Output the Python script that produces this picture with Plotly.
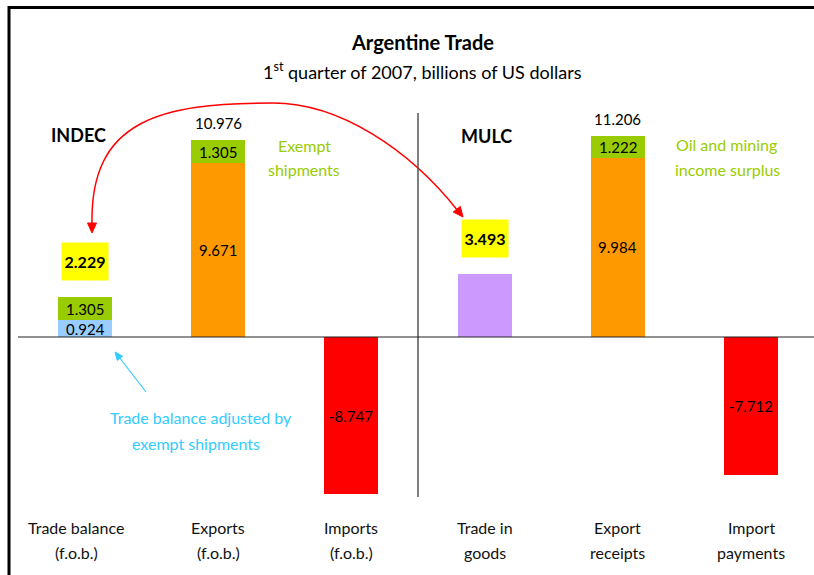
import plotly.graph_objects as go

# ---------------- data ----------------
categories = ["Trade balance\n(f.o.b.)", "Exports\n(f.o.b.)", "Imports\n(f.o.b.)",
              "Trade in\ngoods", "Export\nreceipts", "Import\npayments"]
base_values = [0.924, 9.671, -8.747, 3.493, 9.984, -7.712]
base_labels = [True, True, True, False, True, True]
top_values = [1.305, 1.305, 0.0, 0.0, 1.222, 0.0]
highlight_totals = [True, False, False, True, False, False]   # yellow boxes
plain_totals = [False, True, False, False, True, False]

base_colors = ["#99CCFF", "#FF9900", "#FF0000", "#CC99FF", "#FF9900", "#FF0000"]
top_color = "#99CC00"

FONT = "Lato"
W, H = 814, 575
ML, MR, MT, MB = 18, 0, 100, 75
XR = [-0.503, 5.473]
YR = [-9.081, 13.203]

px_w = W - ML - MR
px_h = H - MT - MB


def X(px):
    return XR[0] + (px - ML) / px_w * (XR[1] - XR[0])


def Y(py):
    return YR[1] - (py - MT) / px_h * (YR[1] - YR[0])


def PX(px):
    return (px - ML) / px_w


def PY(py):
    return (H - MB - py) / px_h


def tri(tip, b1, b2):
    return (f"M {X(tip[0])},{Y(tip[1])} L {X(b1[0])},{Y(b1[1])} "
            f"L {X(b2[0])},{Y(b2[1])} Z")


xs = list(range(len(categories)))

fig = go.Figure()
fig.add_trace(go.Bar(x=xs, y=base_values, marker=dict(color=base_colors, line=dict(width=0)),
                     width=0.405, hoverinfo="skip"))
fig.add_trace(go.Bar(x=xs, y=top_values, marker=dict(color=top_color, line=dict(width=0)),
                     width=0.405, hoverinfo="skip"))

ann = []
for i, (b, t) in enumerate(zip(base_values, top_values)):
    if base_labels[i]:
        ann.append(dict(x=i, y=b / 2, text=f"{b:.3f}", showarrow=False,
                        font=dict(size=15, color="black", family=FONT)))
    if t > 0:
        ann.append(dict(x=i, y=b + t / 2, text=f"{t:.3f}", showarrow=False,
                        font=dict(size=15, color="black", family=FONT)))
    total = b + t
    if plain_totals[i]:
        ann.append(dict(x=i, y=total, text=f"{total:.3f}", showarrow=False, yanchor="bottom",
                        yshift=6, font=dict(size=15, color="black", family=FONT)))
    if highlight_totals[i]:
        ann.append(dict(x=i, y=total, text=f"<b>{total:.3f}</b>", showarrow=False,
                        yanchor="bottom", yshift=16, bgcolor="#FFFF00", width=44, height=35,
                        borderpad=1, font=dict(size=16, color="black", family=FONT)))

# category labels (below the plot area -> paper y)
for i, c in enumerate(categories):
    l1, l2 = c.split("\n")
    shift = -9 if i == 0 else 0
    ann.append(dict(x=i, xref="x", y=PY(527), yref="paper", yanchor="middle", text=l1,
                    showarrow=False, xshift=shift, font=dict(size=16, color="#111", family=FONT)))
    ann.append(dict(x=i, xref="x", y=PY(552), yref="paper", yanchor="middle", text=l2,
                    showarrow=False, xshift=shift, font=dict(size=16, color="#111", family=FONT)))


def txt(px, py, text, size, color, bold=False):
    return dict(x=PX(px), y=PY(py), xref="paper", yref="paper", xanchor="center",
                yanchor="middle", text=f"<b>{text}</b>" if bold else text, showarrow=False,
                font=dict(size=size, color=color, family=FONT))


ann += [
    txt(422, 42, "Argentine Trade", 20, "black", bold=True),
    txt(422, 71, "1<sup>st</sup> quarter of 2007, billions of US dollars", 18, "black"),
    txt(78, 135, "INDEC", 18, "black", bold=True),
    txt(486, 136, "MULC", 18, "black", bold=True),
    txt(304, 145, "Exempt", 16, "#99CC00"),
    txt(304, 169, "shipments", 16, "#99CC00"),
    txt(726, 144, "Oil and mining", 16, "#99CC00"),
    txt(727, 169, "income surplus", 16, "#99CC00"),
    txt(201, 417, "Trade balance adjusted by", 16, "#33CCFF"),
    txt(196, 443, "exempt shipments", 16, "#33CCFF"),
]

curve = (f"M {X(92)},{Y(224)} C {X(90)},{Y(120)} {X(160)},{Y(103)} {X(273)},{Y(103)} "
         f"C {X(340)},{Y(103)} {X(410)},{Y(150)} {X(458)},{Y(211)}")

shapes = [
    dict(type="path", path=curve, xref="x", yref="y", line=dict(color="#FF0000", width=1.5)),
    dict(type="path", path=tri((92, 233), (87.5, 223), (96.5, 223)), xref="x", yref="y",
         fillcolor="#FF0000", line=dict(color="#FF0000", width=1)),
    dict(type="path", path=tri((463, 217), (453.2, 212), (460.3, 206.4)), xref="x", yref="y",
         fillcolor="#FF0000", line=dict(color="#FF0000", width=1)),
    dict(type="line", xref="x", yref="y", x0=X(146), y0=Y(392), x1=X(119), y1=Y(357),
         line=dict(color="#33CCFF", width=1.2)),
    dict(type="path", path=tri((115, 352), (122.6, 356.2), (117.2, 360.4)), xref="x", yref="y",
         fillcolor="#33CCFF", line=dict(color="#33CCFF", width=1)),
    dict(type="line", xref="x", yref="y", x0=2.5, x1=2.5, y0=Y(113), y1=Y(497),
         line=dict(color="#555555", width=1.5)),
    dict(type="line", xref="x", yref="y", x0=X(18), x1=X(814), y0=0, y1=0,
         line=dict(color="#222222", width=1.2)),
    dict(type="path", xref="paper", yref="paper",
         path=f"M {PX(9)},{PY(600)} L {PX(9)},{PY(7.5)} L {PX(830)},{PY(7.5)}",
         line=dict(color="black", width=3)),
]

fig.update_layout(
    width=W, height=H, margin=dict(l=ML, r=MR, t=MT, b=MB),
    barmode="relative", bargap=0, showlegend=False,
    plot_bgcolor="white", paper_bgcolor="white",
    xaxis=dict(range=XR, visible=False, fixedrange=True),
    yaxis=dict(range=YR, visible=False, fixedrange=True, zeroline=False),
    annotations=ann, shapes=shapes,
    font=dict(family=FONT),
)

fig.write_html("out.html", config={"displayModeBar": False},
               post_script="document.body.style.margin='0';document.body.style.overflow='hidden';")
